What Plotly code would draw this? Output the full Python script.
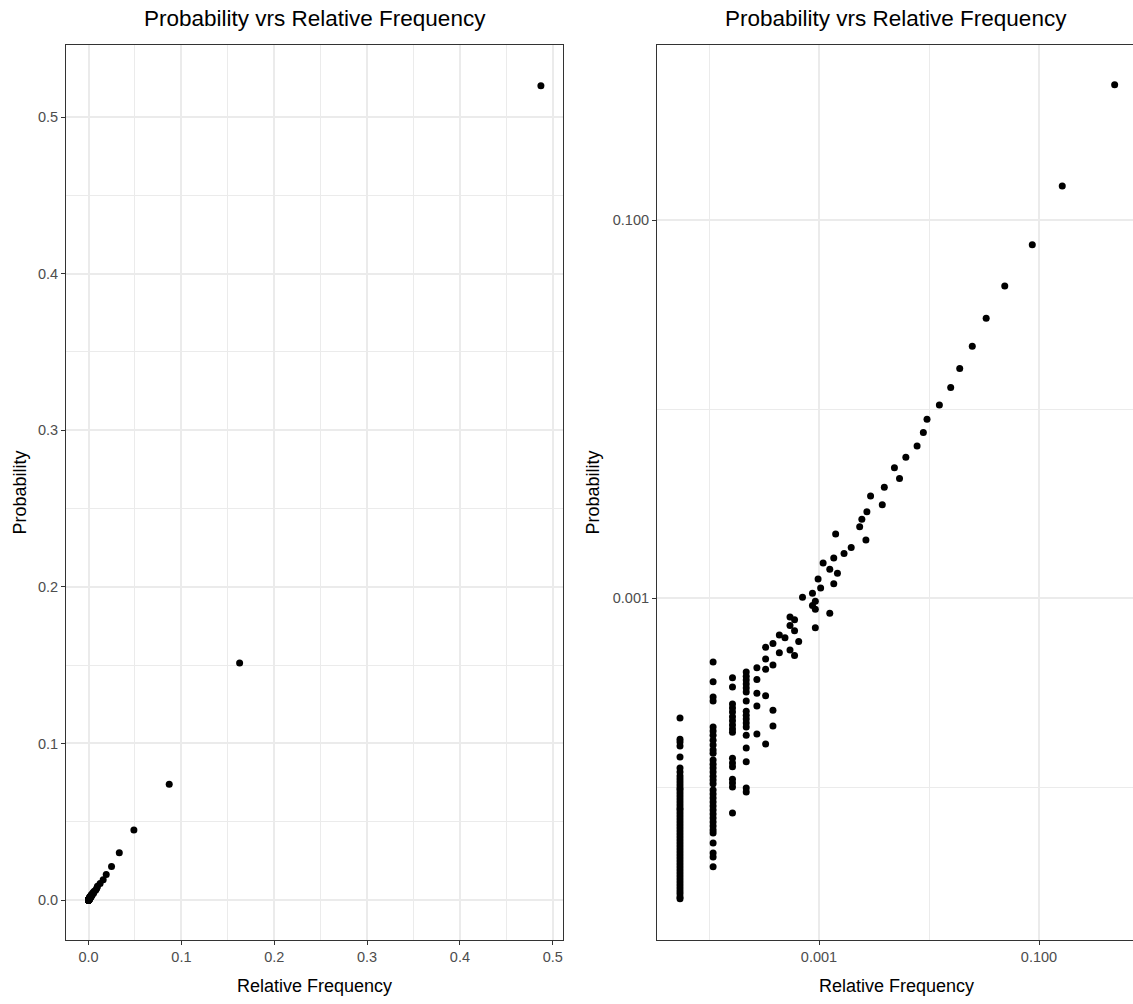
import plotly.graph_objects as go

FONT = "Liberation Sans, Arial, sans-serif"

# Relative frequency of the rarest terms (one column per observed count)
rare_freq = [5.45e-05, 1.09e-04, 1.635e-04, 2.18e-04, 2.725e-04, 3.27e-04, 3.815e-04]

# Model probability of every term in each of those columns
rare_prob = [
    [2.32e-4, 1.79e-4, 1.73e-4, 1.65e-4, 1.44e-4, 1.26e-4, 1.20e-4,
     1.143e-4, 1.102e-4, 1.063e-4, 1.025e-4, 9.88e-5, 9.64e-5, 9.30e-5, 8.96e-5, 8.64e-5,
     8.33e-5, 8.03e-5, 7.74e-5, 7.55e-5, 7.28e-5, 7.02e-5, 6.77e-5, 6.53e-5, 6.29e-5,
     6.07e-5, 5.85e-5, 5.64e-5, 5.44e-5, 5.24e-5, 5.05e-5, 4.87e-5, 4.70e-5, 4.53e-5,
     4.37e-5, 4.21e-5, 4.06e-5, 3.91e-5, 3.77e-5, 3.64e-5, 3.51e-5, 3.38e-5, 3.26e-5,
     3.14e-5, 3.03e-5, 2.92e-5, 2.82e-5, 2.72e-5, 2.62e-5, 2.56e-5],
    [4.58e-4, 3.60e-4, 2.99e-4, 2.85e-4, 2.08e-4, 1.98e-4, 1.88e-4, 1.77e-4, 1.67e-4,
     1.57e-4, 1.51e-4, 1.39e-4, 1.32e-4, 1.26e-4, 1.20e-4, 1.14e-4, 1.09e-4, 1.04e-4,
     9.64e-5, 9.18e-5, 8.74e-5, 8.33e-5, 7.93e-5, 7.55e-5, 7.20e-5, 6.85e-5, 6.53e-5,
     6.22e-5, 5.92e-5, 5.71e-5, 5.06e-5, 4.48e-5, 4.26e-5, 3.78e-5],
    [3.78e-4, 3.38e-4, 2.75e-4, 2.62e-4, 2.49e-4, 2.35e-4, 2.24e-4, 2.13e-4, 2.03e-4,
     1.95e-4, 1.42e-4, 1.34e-4, 1.28e-4, 1.10e-4, 1.05e-4, 1.00e-4, 7.28e-5],
    [4.06e-4, 3.86e-4, 3.68e-4, 3.51e-4, 3.34e-4, 3.18e-4, 2.85e-4, 2.52e-4, 2.40e-4,
     2.29e-4, 2.18e-4, 2.08e-4, 1.88e-4, 1.61e-4, 1.36e-4, 9.88e-5, 9.42e-5],
    [4.28e-4, 3.71e-4, 3.13e-4, 2.68e-4, 1.91e-4],
    [5.48e-4, 4.76e-4, 4.20e-4, 3.04e-4, 1.69e-4],
    [5.75e-4, 4.42e-4, 2.55e-4, 2.10e-4],
]

# Remaining terms: relative frequency and model probability
common_freq = [4.36e-4, 4.36e-4, 4.905e-4, 5.45e-4, 5.45e-4, 5.45e-4, 5.995e-4, 5.995e-4,
               5.995e-4, 6.54e-4, 7.08e-4, 8.72e-4, 8.72e-4, 9.26e-4, 9.26e-4, 9.26e-4,
               9.81e-4, 1.035e-3, 1.09e-3, 1.253e-3, 1.253e-3, 1.362e-3, 1.362e-3, 1.417e-3,
               1.471e-3, 1.689e-3, 1.962e-3, 2.343e-3, 2.452e-3, 2.670e-3, 2.725e-3, 2.943e-3,
               3.760e-3, 3.924e-3, 4.850e-3, 5.395e-3, 6.158e-3, 7.793e-3, 8.883e-3, 9.591e-3,
               1.2425e-2, 1.575e-2, 1.902e-2, 2.474e-2, 3.31e-2, 4.883e-2, 8.687e-2, 0.1627,
               0.4872]
common_prob = [6.37e-4, 5.14e-4, 6.16e-4, 7.93e-4, 7.15e-4, 5.31e-4, 7.67e-4, 6.71e-4,
               4.96e-4, 5.88e-4, 1.01e-3, 1.06e-3, 9.13e-4, 9.62e-4, 8.72e-4, 6.96e-4,
               1.26e-3, 1.13e-3, 1.53e-3, 1.42e-3, 8.30e-4, 1.63e-3, 1.19e-3, 2.18e-3,
               1.35e-3, 1.72e-3, 1.85e-3, 2.38e-3, 2.61e-3, 2.03e-3, 2.86e-3, 3.47e-3,
               3.11e-3, 3.86e-3, 4.89e-3, 4.29e-3, 5.55e-3, 6.37e-3, 7.50e-3, 8.83e-3,
               1.05e-2, 1.30e-2, 1.64e-2, 2.15e-2, 3.02e-2, 4.48e-2, 7.40e-2, 0.1513,
               0.520]

lin_ticks = [0.0, 0.1, 0.2, 0.3, 0.4, 0.5]
lin_labels = ["0.0", "0.1", "0.2", "0.3", "0.4", "0.5"]
lin_minor = [0.05, 0.15, 0.25, 0.35, 0.45]
log_ticks = [0.001, 0.1]
log_labels = ["0.001", "0.100"]
log_minor = [0.0001, 0.01]

TITLE = "Probability vrs Relative Frequency"

# Flatten the per-count columns into one point list
rel_freq, probability = [], []
for f, col in zip(rare_freq, rare_prob):
    rel_freq += [f] * len(col)
    probability += col
rel_freq += common_freq
probability += common_prob

W, H = 1133, 1004


def fx(p):
    return p / W


def fy(p):
    return 1 - p / H


GRID = "#EBEBEB"
BORDER = "#333333"
TICKFONT = dict(family=FONT, size=14.5, color="#4D4D4D")

fig = go.Figure()
marker = dict(color="black", size=7, line=dict(width=0))
fig.add_trace(go.Scatter(x=rel_freq, y=probability, mode="markers", marker=marker,
                         xaxis="x", yaxis="y", hoverinfo="skip"))
fig.add_trace(go.Scatter(x=rel_freq, y=probability, mode="markers", marker=marker,
                         xaxis="x2", yaxis="y2", hoverinfo="skip"))

common_axis = dict(
    showgrid=True, gridcolor=GRID, gridwidth=1.5, zeroline=False,
    showline=True, linecolor=BORDER, linewidth=1.1,
    ticks="outside", ticklen=4, tickwidth=1.1, tickcolor=BORDER,
    tickfont=TICKFONT, tickmode="array",
)

minor_grid = dict(tickmode="array", showgrid=True, gridcolor=GRID, gridwidth=1.2, ticks="")

y_dom = [fy(940), fy(45)]

fig.update_layout(
    width=W, height=H,
    margin=dict(l=0, r=0, t=0, b=0),
    paper_bgcolor="white", plot_bgcolor="white",
    showlegend=False,
    xaxis=dict(common_axis, domain=[fx(66), fx(563)], range=[-0.0243, 0.5110],
               tickvals=lin_ticks, ticktext=lin_labels, mirror=True, anchor="y",
               minor=dict(minor_grid, tickvals=lin_minor)),
    yaxis=dict(common_axis, domain=y_dom, range=[-0.0255, 0.546],
               tickvals=lin_ticks, ticktext=lin_labels, mirror=True, anchor="x",
               minor=dict(minor_grid, tickvals=lin_minor)),
    xaxis2=dict(common_axis, type="log", domain=[fx(657), 1.0], range=[-4.4727, -0.1455],
                tickvals=log_ticks, ticktext=log_labels, mirror=True, anchor="y2",
                minor=dict(minor_grid, tickvals=log_minor)),
    yaxis2=dict(common_axis, type="log", domain=y_dom, range=[-4.8095, -0.0741],
                tickvals=log_ticks, ticktext=log_labels, mirror=False, anchor="x2",
                minor=dict(minor_grid, tickvals=log_minor)),
)

annotations = []
for cx in (314.5, 896):
    annotations.append(dict(text=TITLE, x=fx(cx), y=fy(19), xref="paper", yref="paper",
                            xanchor="center", yanchor="middle", showarrow=False,
                            font=dict(family=FONT, size=22.5, color="black")))
    annotations.append(dict(text="Relative Frequency", x=fx(cx), y=fy(986),
                            xref="paper", yref="paper", xanchor="center",
                            yanchor="middle", showarrow=False,
                            font=dict(family=FONT, size=18, color="black")))
for cx in (19, 592):
    annotations.append(dict(text="Probability", x=fx(cx), y=fy(492.5), xref="paper",
                            yref="paper", xanchor="center", yanchor="middle",
                            textangle=-90, showarrow=False,
                            font=dict(family=FONT, size=18, color="black")))
fig.update_layout(annotations=annotations)

fig.write_html("out.html")
